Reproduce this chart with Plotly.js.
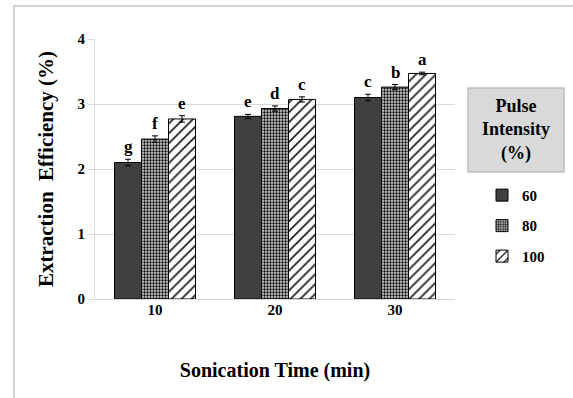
<!DOCTYPE html>
<html><head><meta charset="utf-8">
<script src="https://cdn.plot.ly/plotly-3.0.1.min.js"></script>
<style>html,body{margin:0;padding:0;background:#fff}#c{width:573px;height:398px}</style>
</head><body><div id="c"></div>
<script>
var times = ['10', '20', '30'];
var seriesNames = ['60', '80', '100'];
var eff60 = [2.10, 2.81, 3.10];
var eff80 = [2.46, 2.93, 3.26];
var eff100 = [2.77, 3.07, 3.47];
var err60 = [0.05, 0.03, 0.05];
var err80 = [0.05, 0.04, 0.04];
var err100 = [0.05, 0.04, 0.02];
var letters60 = ['g', 'e', 'c'];
var letters80 = ['f', 'd', 'b'];
var letters100 = ['e', 'c', 'a'];

var F = 'Liberation Serif';
var vals = [eff60, eff80, eff100];
var errs = [err60, err80, err100];
var lets = [letters60, letters80, letters100];
var patterns = [
  {shape: ''},
  {shape: '.', fgcolor: '#000', bgcolor: '#ccc', size: 3, solidity: 0.45},
  {shape: '/', fgcolor: '#222', bgcolor: '#fff', size: 7, solidity: 0.25}
];
var colors = ['#404040', '#ccc', '#fff'];
var traces = [];
for (var i = 0; i < 3; i++) {
  traces.push({
    type: 'bar', name: seriesNames[i], x: times, y: vals[i],
    legendgroup: 'g' + i,
    marker: {color: colors[i], pattern: patterns[i], line: {color: '#000', width: 1}},
    error_y: {type: 'data', array: errs[i], visible: true, color: '#000', thickness: 1, width: 3}
  });
}
var bargap = 0.325;
var bw = (1 - bargap) / 3;
var ann = [];
for (var i = 0; i < 3; i++) {
  for (var j = 0; j < 3; j++) {
    ann.push({x: j + (i - 1) * bw, y: vals[i][j] + errs[i][j], xref: 'x', yref: 'y',
      text: lets[i][j], showarrow: false, yanchor: 'bottom', yshift: 1,
      font: {family: F, size: 17, color: '#000', weight: 'bold'}});
  }
}
ann.push({xref: 'paper', yref: 'paper', x: 1.17, y: 0.65, xanchor: 'center', yanchor: 'middle',
  text: 'Pulse<br>Intensity<br>(%)', showarrow: false, align: 'center',
  font: {family: F, size: 18, color: '#000', weight: 'bold'}});

var layout = {
  width: 573, height: 398,
  margin: {l: 95, r: 118, t: 39, b: 99},
  paper_bgcolor: '#fff', plot_bgcolor: '#fff',
  barmode: 'group', bargap: bargap, bargroupgap: 0,
  showlegend: true,
  legend: {x: 1.075, xanchor: 'left', y: 0.462, yanchor: 'top', traceorder: 'grouped',
    tracegroupgap: 8, font: {family: F, size: 15, color: '#000', weight: 'bold'},
    itemwidth: 30, bgcolor: 'rgba(0,0,0,0)'},
  xaxis: {type: 'category', showgrid: false, showline: false, zeroline: false, ticks: '',
    tickfont: {family: F, size: 15, color: '#000', weight: 'bold'},
    title: {text: 'Sonication Time (min)', font: {family: F, size: 20, color: '#000', weight: 'bold'}, standoff: 45}},
  yaxis: {range: [0, 4], dtick: 1, showgrid: true, gridcolor: '#d9d9d9', gridwidth: 1,
    showline: true, linecolor: '#d9d9d9', zeroline: true, zerolinecolor: '#d9d9d9',
    ticks: 'outside', ticklen: 6, tickcolor: '#d9d9d9',
    tickfont: {family: F, size: 15, color: '#000', weight: 'bold'},
    title: {text: 'Extraction  Efficiency (%)', font: {family: F, size: 21, color: '#000', weight: 'bold'}, standoff: 18}},
  annotations: ann,
  shapes: [
    {type: 'rect', xref: 'paper', yref: 'paper', x0: 1.036, x1: 1.303, y0: 0.488, y1: 0.812,
      fillcolor: '#d9d9d9', line: {color: '#bfbfbf', width: 1.5}, layer: 'below'},
    {type: 'line', xref: 'paper', yref: 'paper', x0: -0.225, x1: 1.4, y0: 1.127, y1: 1.127,
      line: {color: '#a6a6a6', width: 1}},
    {type: 'line', xref: 'paper', yref: 'paper', x0: -0.225, x1: -0.225, y0: 1.127, y1: -0.4,
      line: {color: '#a6a6a6', width: 1}}
  ]
};
Plotly.newPlot('c', traces, layout, {staticPlot: true});
</script></body></html>
